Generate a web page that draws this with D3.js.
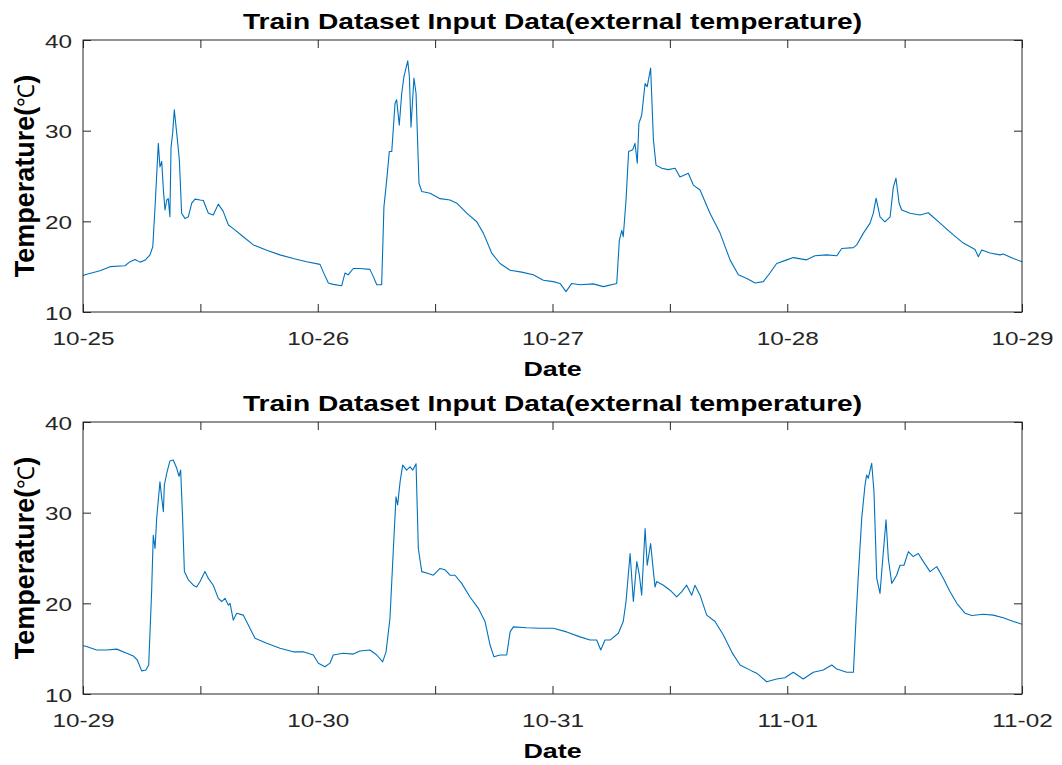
<!DOCTYPE html>
<html>
<head>
<meta charset="utf-8">
<script src="https://d3js.org/d3.v7.min.js"></script>
<style>
  body { margin: 0; background: #fff; }
  text { font-family: "Liberation Sans", Arial, sans-serif; fill: #262626; }
</style>
</head>
<body>
<div id="container"></div>
<script>
/* DATA (hours after the panel's start date, temperature in deg C) */
const panelStarts = ["2019-10-25", "2019-10-29"];
const titleText = "Train Dataset Input Data(external temperature)";
const yTicks = [10, 20, 30, 40];

const topHours = [0, 0.2, 1.74, 2.76, 4.29, 4.81, 5.32, 5.83, 6.34, 6.85,
  7.13, 7.36, 7.70, 7.87, 8.05, 8.21, 8.38, 8.56, 8.72, 8.89,
  9.0, 9.17, 9.33, 9.58, 9.85, 10.09, 10.43, 10.77, 11.11, 11.45,
  11.96, 12.30, 12.81, 13.32, 13.83, 14.34, 14.86, 15.37, 16.39, 17.41,
  18.78, 20.14, 21.50, 22.87, 24.23, 24.57, 25.08, 25.59, 26.45, 26.79,
  27.12, 27.64, 28.32, 29.34, 29.68, 30.03, 30.54, 30.77, 31.05, 31.32,
  31.56, 31.90, 32.07, 32.34, 32.58, 32.82, 33.20, 33.36, 33.53, 33.84,
  34.05, 34.35, 34.63, 35.48, 36.50, 37.52, 38.21, 39.23, 40.25, 40.93,
  41.79, 42.63, 43.66, 44.85, 46.04, 47.06, 48.08, 48.77, 49.38, 49.96,
  50.81, 52.17, 53.20, 54.56, 54.83, 55.08, 55.24, 55.52, 55.79, 56.20,
  56.44, 56.67, 56.84, 57.12, 57.46, 57.69, 58.04, 58.31, 58.58, 59.17,
  59.84, 60.53, 61.04, 61.89, 62.40, 63.08, 64.10, 65.13, 66.15, 67.00,
  67.86, 68.71, 69.55, 70.24, 70.92, 71.95, 72.62, 73.99, 74.84, 76.03,
  77.06, 77.57, 78.76, 79.10, 79.78, 80.46, 80.80, 81.08, 81.48, 81.99,
  82.51, 82.85, 83.12, 83.43, 83.70, 84.55, 85.57, 86.42, 87.62, 88.98,
  90.00, 91.20, 91.54, 91.88, 92.73, 93.75, 94.09, 95.11, 96];
const topTemps = [14.0, 14.1, 14.55, 15.0, 15.1, 15.55, 15.8, 15.5, 15.7, 16.3,
  17.2, 21.6, 28.6, 26.0, 26.6, 23.5, 21.25, 22.35, 22.5, 20.5,
  28.2, 29.7, 32.3, 29.7, 26.8, 20.9, 20.3, 20.5, 22.0, 22.45,
  22.35, 22.3, 20.9, 20.7, 21.9, 21.1, 19.6, 19.2, 18.3, 17.4,
  16.8, 16.3, 15.9, 15.55, 15.25, 14.4, 13.2, 13.05, 12.9, 14.3,
  14.1, 14.8, 14.8, 14.7, 13.9, 13.0, 13.0, 21.6, 24.55, 27.7,
  27.7, 33.0, 33.4, 30.6, 34.1, 36.0, 37.7, 36.0, 30.4, 35.8,
  34.1, 24.2, 23.3, 23.1, 22.5, 22.35, 22.0, 20.9, 19.95, 18.7,
  16.5, 15.35, 14.6, 14.4, 14.1, 13.5, 13.35, 13.15, 12.25, 13.15,
  13.0, 13.1, 12.8, 13.15, 17.9, 19.0, 18.3, 22.35, 27.7, 27.9,
  28.6, 26.4, 30.8, 31.7, 35.2, 34.85, 36.9, 29.0, 26.2, 25.85,
  25.7, 25.85, 24.9, 25.3, 24.0, 23.45, 20.9, 18.7, 15.75, 14.1,
  13.7, 13.2, 13.35, 14.3, 15.35, 15.75, 16.0, 15.75, 16.2, 16.3,
  16.2, 17.0, 17.1, 17.4, 18.7, 19.8, 20.9, 22.55, 20.5, 19.95,
  20.5, 23.8, 24.75, 22.0, 21.25, 20.9, 20.7, 20.95, 19.8, 18.5,
  17.6, 16.9, 16.1, 16.85, 16.5, 16.3, 16.4, 15.9, 15.55];

const bottomHours = [0, 0.2, 1.40, 2.42, 3.45, 4.47, 5.14, 5.55, 6.0, 6.44,
  6.72, 7.02, 7.19, 7.36, 7.53, 7.87, 8.05, 8.21, 8.31, 8.56,
  8.89, 9.23, 9.58, 9.81, 9.99, 10.19, 10.36, 10.77, 11.28, 11.62,
  11.96, 12.47, 12.81, 13.32, 13.83, 14.18, 14.52, 14.86, 15.03, 15.37,
  15.71, 16.39, 16.9, 17.59, 18.78, 20.14, 21.5, 22.52, 23.55, 24.06,
  24.74, 25.25, 25.59, 26.61, 27.64, 28.32, 29.34, 30.03, 30.64, 30.98,
  31.39, 31.72, 32.0, 32.17, 32.41, 32.69, 33.09, 33.43, 33.71, 34.05,
  34.28, 34.63, 35.3, 35.81, 36.5, 37.01, 37.52, 38.03, 38.72, 39.57,
  40.41, 41.1, 41.61, 42.02, 42.63, 43.32, 43.66, 44.0, 45.36, 46.72,
  48.08, 49.45, 50.81, 51.83, 52.52, 52.93, 53.37, 53.88, 54.73, 55.24,
  55.52, 55.93, 56.26, 56.61, 56.88, 57.12, 57.46, 57.69, 58.04, 58.31,
  58.48, 58.65, 59.33, 60.01, 60.70, 61.21, 61.72, 62.23, 62.57, 63.08,
  63.77, 64.62, 65.46, 66.32, 67.17, 68.37, 68.88, 69.9, 70.92, 71.77,
  72.62, 73.64, 74.67, 75.69, 76.55, 77.06, 78.08, 78.76, 79.03, 79.27,
  79.61, 79.95, 80.12, 80.29, 80.63, 80.87, 81.15, 81.48, 81.76, 82.1,
  82.33, 82.68, 83.19, 83.53, 83.94, 84.38, 84.89, 85.4, 85.91, 86.6,
  87.28, 87.96, 88.64, 89.33, 90.18, 90.86, 92.05, 93.07, 94.09, 95.11,
  96];
const bottomTemps = [15.3, 15.3, 14.85, 14.85, 14.95, 14.5, 14.2, 13.75, 12.55, 12.65,
  13.2, 21.3, 27.5, 26.05, 29.4, 33.4, 31.6, 30.1, 33.05, 34.35,
  35.7, 35.8, 34.9, 34.0, 34.7, 29.4, 23.5, 22.6, 22.0, 21.8,
  22.4, 23.5, 22.75, 22.0, 20.55, 20.2, 20.55, 19.8, 20.0, 18.15,
  18.9, 18.7, 17.6, 16.15, 15.6, 15.05, 14.65, 14.65, 14.3, 13.4,
  13.0, 13.4, 14.3, 14.5, 14.4, 14.75, 14.85, 14.3, 13.55, 14.65,
  18.35, 25.7, 31.75, 30.85, 33.4, 35.25, 34.7, 35.05, 34.7, 35.4,
  26.05, 23.5, 23.3, 23.1, 23.85, 23.7, 23.1, 23.1, 22.2, 20.7,
  19.45, 18.0, 15.4, 14.1, 14.3, 14.3, 16.85, 17.4, 17.3, 17.25,
  17.25, 16.85, 16.3, 15.95, 15.95, 14.85, 15.95, 15.95, 16.7, 18.0,
  20.2, 25.5, 20.2, 24.6, 23.1, 20.9, 28.25, 24.2, 26.6, 23.5,
  21.8, 22.4, 22.0, 21.45, 20.7, 21.3, 22.0, 20.9, 22.0, 20.9,
  18.7, 18.0, 16.5, 14.65, 13.2, 12.55, 12.3, 11.35, 11.65, 11.8,
  12.4, 11.65, 12.4, 12.65, 13.2, 12.75, 12.4, 12.4, 18.35, 23.1,
  29.4, 33.05, 34.15, 33.8, 35.45, 32.3, 22.75, 21.1, 24.95, 29.2,
  24.95, 22.2, 23.1, 24.2, 24.2, 25.7, 25.15, 25.5, 24.6, 23.5,
  24.05, 22.75, 21.3, 20.0, 18.9, 18.65, 18.8, 18.7, 18.4, 18.0,
  17.7];

/* CONSTANTS */
const width = 1062, height = 765;
const left = 83, right = 1022;
const panelTops = [40, 422], panelBottoms = [312, 694];
const sx = 1.28;            // text in the picture is drawn wide
const tick = 8;
const axisColor = "#262626";
const lineColor = "#0072BD";

const svg = d3.select("#container").append("svg")
  .attr("width", width).attr("height", height);

const parse = d3.timeParse("%Y-%m-%d");
const fmt = d3.timeFormat("%m-%d");

function wideText(g, x, y, str, size, weight) {
  return g.append("text")
    .attr("transform", `translate(${x},${y}) scale(${sx},1)`)
    .attr("text-anchor", "middle")
    .style("font-size", size + "px")
    .style("font-weight", weight)
    .style("fill", weight === "bold" ? "#000" : axisColor)
    .text(str);
}

const series = [
  {hours: topHours, temps: topTemps},
  {hours: bottomHours, temps: bottomTemps}
];

series.forEach((s, i) => {
  const start = parse(panelStarts[i]);
  const end = d3.timeDay.offset(start, 4);
  const data = s.hours.map((h, j) => ({date: d3.timeMinute.offset(start, Math.round(h * 60)), temp: s.temps[j]}));

  const xScale = d3.scaleTime().domain([start, end]).range([left, right]);
  const yScale = d3.scaleLinear().domain([10, 40]).range([panelBottoms[i], panelTops[i]]);
  const tickDates = d3.timeHour.every(12).range(start, d3.timeHour.offset(end, 1));

  const g = svg.append("g");

  // line
  g.append("path")
    .datum(data)
    .attr("fill", "none")
    .attr("stroke", lineColor)
    .attr("stroke-width", 1.1)
    .attr("stroke-linejoin", "round")
    .attr("d", d3.line().x(d => xScale(d.date)).y(d => yScale(d.temp)));

  // bottom axis (inward ticks)
  const xAxis = g.append("g")
    .attr("transform", `translate(0,${panelBottoms[i]})`)
    .call(d3.axisBottom(xScale).tickValues(tickDates).tickSize(-tick).tickSizeOuter(0)
      .tickFormat(d => d.getHours() === 0 ? fmt(d) : ""));
  xAxis.selectAll("text")
    .attr("y", 0).attr("dy", null)
    .attr("transform", `translate(0,32.5) scale(${sx},1)`)
    .style("font-size", "19px").style("fill", axisColor);

  // top axis
  g.append("g")
    .attr("transform", `translate(0,${panelTops[i]})`)
    .call(d3.axisTop(xScale).tickValues(tickDates).tickSize(-tick).tickSizeOuter(0).tickFormat(""));

  // left axis
  const yAxis = g.append("g")
    .attr("transform", `translate(${left},0)`)
    .call(d3.axisLeft(yScale).tickValues(yTicks).tickSize(-tick).tickSizeOuter(0));
  yAxis.selectAll("text")
    .attr("x", 0).attr("dy", null)
    .attr("transform", `translate(-11,7) scale(${sx},1)`)
    .style("font-size", "19px").style("fill", axisColor);

  // right axis
  g.append("g")
    .attr("transform", `translate(${right},0)`)
    .call(d3.axisRight(yScale).tickValues(yTicks).tickSize(-tick).tickSizeOuter(0).tickFormat(""));

  g.selectAll(".domain").remove();
  g.selectAll(".tick line").attr("stroke", axisColor);

  // box
  g.append("rect")
    .attr("x", left).attr("y", panelTops[i])
    .attr("width", right - left).attr("height", panelBottoms[i] - panelTops[i])
    .attr("fill", "none").attr("stroke", axisColor).attr("stroke-width", 1);

  // title and axis labels
  wideText(g, (left + right) / 2, panelTops[i] - 11.5, titleText, 22, "bold");
  wideText(g, (left + right) / 2, panelBottoms[i] + 64, "Date", 21, "bold");

  const yLabel = g.append("text")
    .attr("transform", `translate(34,${(panelTops[i] + panelBottoms[i]) / 2}) rotate(-90)`)
    .attr("text-anchor", "middle")
    .style("font-size", "27px")
    .style("font-weight", "bold")
    .style("fill", "#000");
  yLabel.append("tspan").text("Temperature(");
  yLabel.append("tspan").style("font-size", "23px").style("font-weight", "normal").text("℃");
  yLabel.append("tspan").text(")");
});
</script>
</body>
</html>
